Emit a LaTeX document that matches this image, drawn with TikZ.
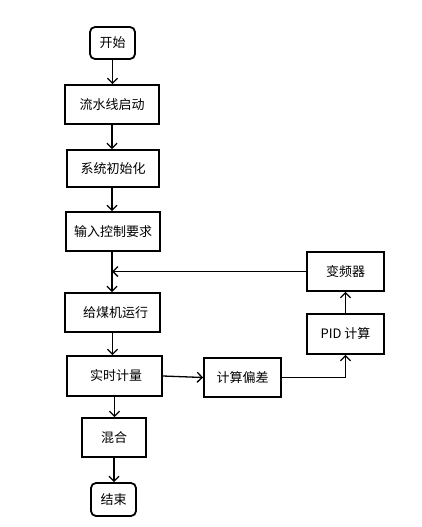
\documentclass[tikz,border=0pt]{standalone}
\usepackage{fontspec}
\setmainfont{Noto Sans CJK SC}
\usetikzlibrary{arrows.meta,calc}
\begin{document}
\begin{tikzpicture}[x=1pt,y=-1pt,
  box/.style={draw, line width=1.8pt, inner sep=0pt, font=\fontsize{13}{15}\selectfont},
  term/.style={box, rounded corners=5pt},
  arr/.style={draw, line width=1.3pt, -{Straight Barb[length=5pt,width=10pt,line width=1.3pt]}}]
\useasboundingbox (0,0) rectangle (421,527);
\node[term, minimum width=45pt, minimum height=32pt] (start) at (112.5,43) {开始};
\node[box, minimum width=94pt, minimum height=39pt] (n1) at (112,104.5) {流水线启动};
\node[box, minimum width=92pt, minimum height=37pt] (n2) at (113,168.5) {系统初始化};
\node[box, minimum width=94pt, minimum height=39pt] (n3) at (113,231.5) {输入控制要求};
\node[box, minimum width=95pt, minimum height=39pt] (n4) at (112.5,312.5) {\hspace{6pt}给煤机运行};
\node[box, minimum width=95pt, minimum height=40pt] (n5) at (114.5,376) {\hspace{3pt}实时计量};
\node[box, minimum width=77pt, minimum height=39pt] (n6) at (242.5,377.5) {计算偏差};
\node[box, minimum width=77pt, minimum height=40pt] (n7) at (345.5,334) {PID 计算};
\node[box, minimum width=77pt, minimum height=39pt] (n8) at (345.5,271.5) {变频器};
\node[box, minimum width=64pt, minimum height=39pt] (n9) at (114,437.5) {混合};
\node[term, minimum width=45pt, minimum height=33pt] (end) at (113.5,499.5) {结束};
\draw[arr] (start.south) -- (start.south |- n1.north);
\draw[arr] (n1.south) -- (n1.south |- n2.north);
\draw[arr] (n2.south -| n1.south) -- (n1.south |- n3.north);
\draw[arr] (n3.south -| n1.south) -- (n1.south |- n4.north);
\draw[arr] (n8.west) -- (n8.west -| n1.south);
\draw[arr] (n4.south) -- (n4.south |- n5.north);
\draw[arr] (n5.south) -- (n5.south |- n9.north);
\draw[arr] (n9.south) -- (n9.south |- end.north);
\draw[arr] (n5.east) -- (n6.west);
\draw[arr] (n6.east) -| (n7.south);
\draw[arr] (n7.north) -- (n8.south);
\end{tikzpicture}
\end{document}
